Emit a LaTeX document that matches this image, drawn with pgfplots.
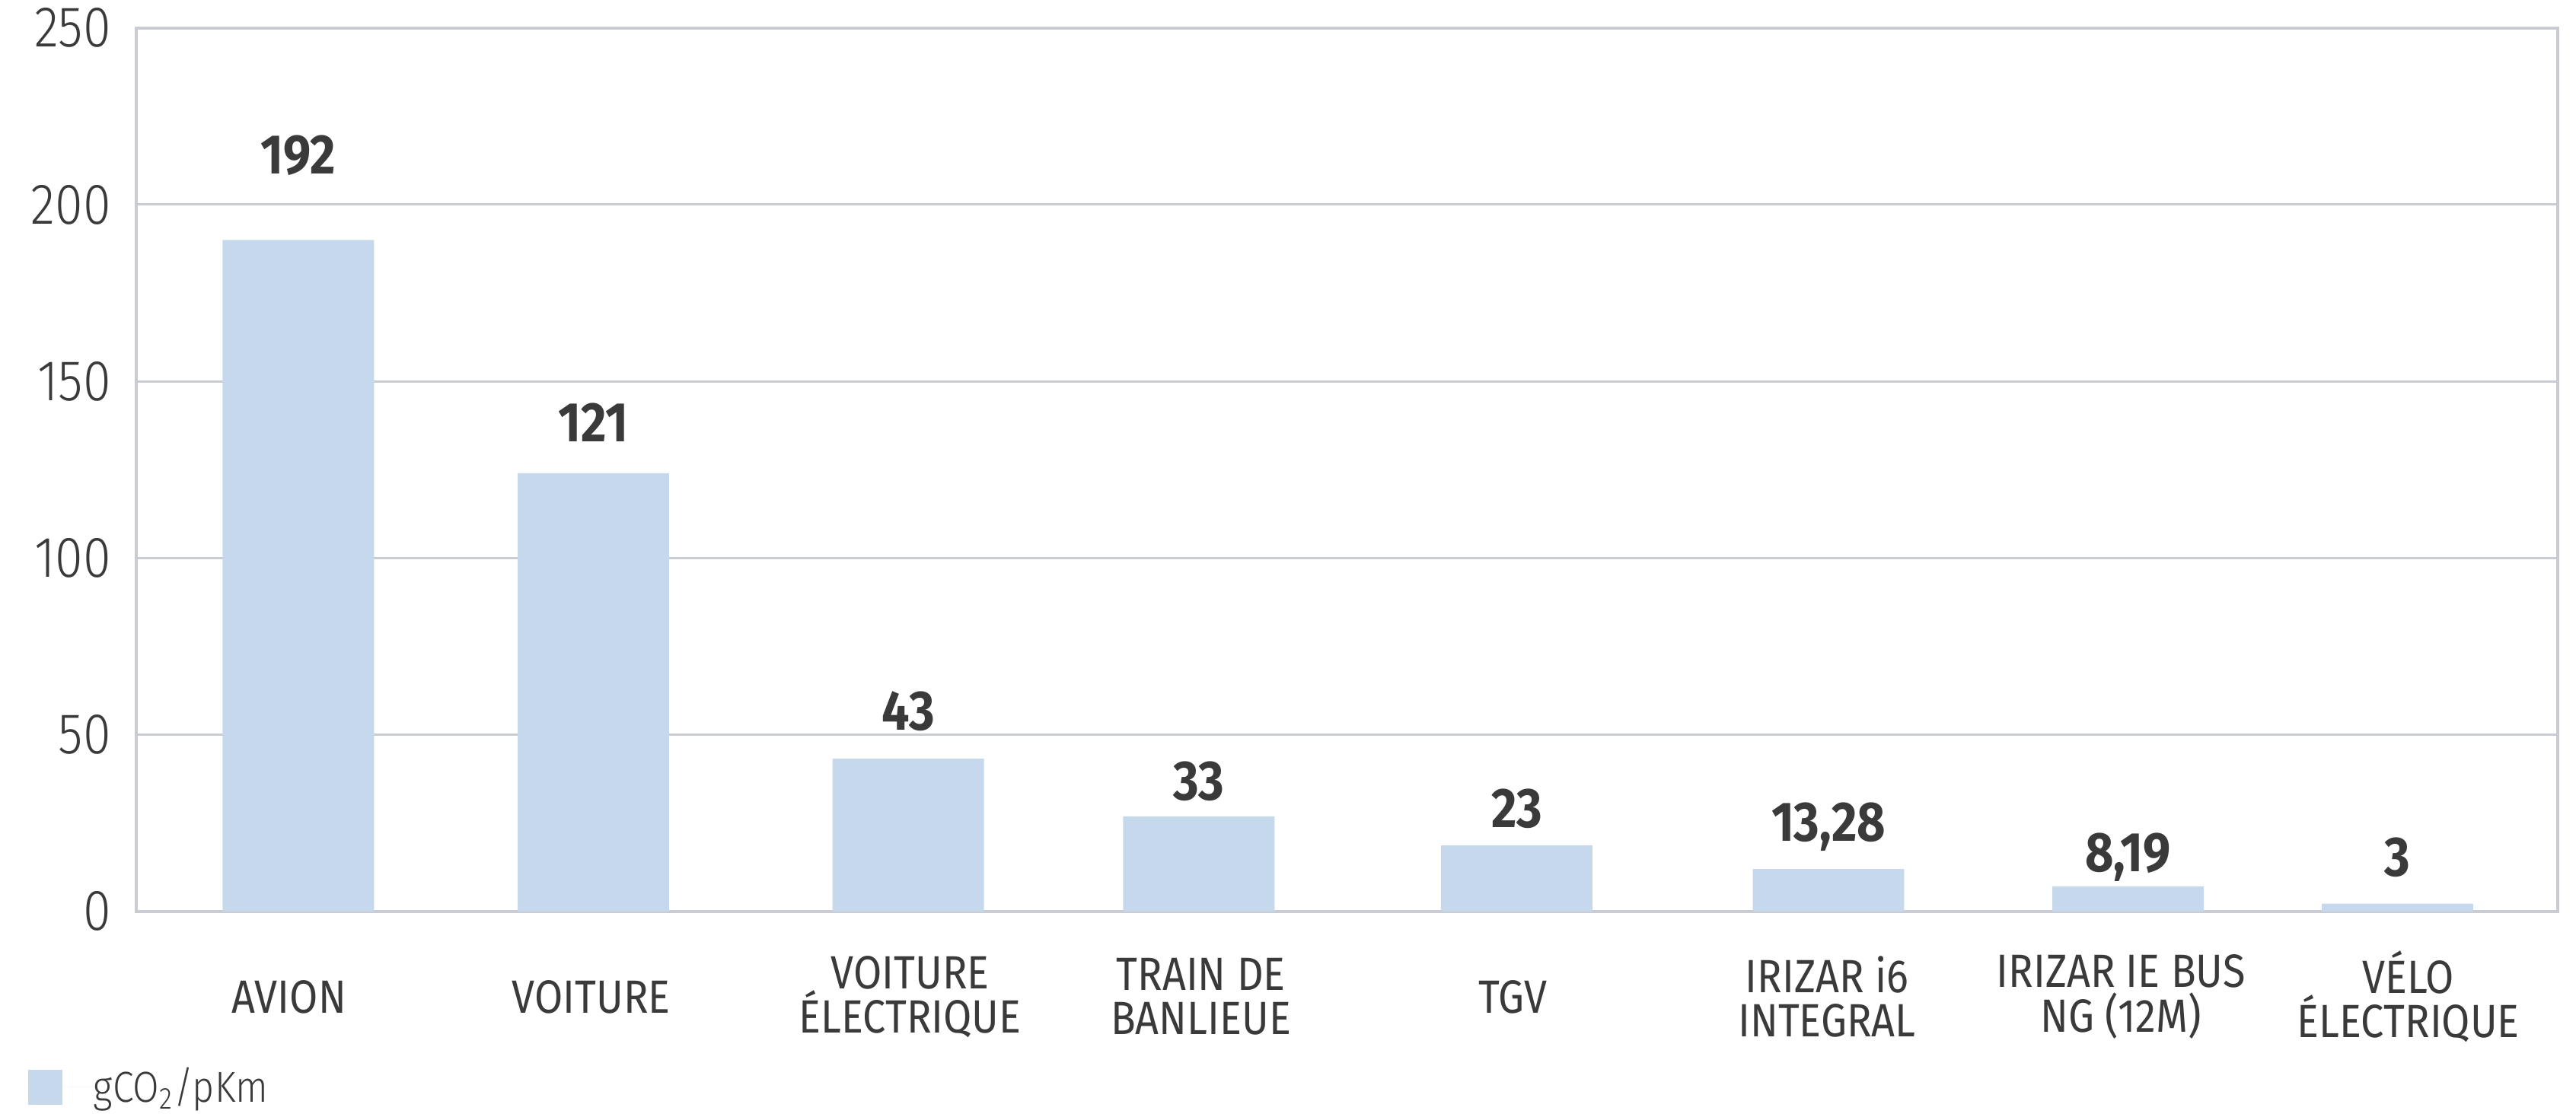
\documentclass[border=0pt]{standalone}
\usepackage{pgfplots}
\pgfplotsset{compat=1.18}
\usepackage{fontspec}
\setmainfont{Fira Sans}[FakeStretch=0.88]
\newfontfamily\lightfont{Fira Sans Light}[FakeStretch=0.88]
\definecolor{barc}{HTML}{C5D8EC}
\definecolor{txt}{HTML}{3A3A3A}
\definecolor{gridc}{HTML}{C9CDD3}
\begin{document}
\begin{tikzpicture}
\useasboundingbox (-41.5pt,-62.5pt) rectangle (742.5pt,277.5pt);
\begin{axis}[
  at={(0,0)}, anchor=south west,
  width=737pt, height=269pt, scale only axis,
  xmin=-0.5, xmax=7.5, ymin=0, ymax=250,
  ytick={0,50,100,150,200,250},
  ymajorgrids, grid style={gridc, line width=0.7pt},
  axis line style={gridc, line width=0.9pt},
  major tick length=0pt,
  xtick={0.005,1.003,2.056,3.017,4.048,5.085,6.056,7.006},
  xticklabels={AVION, VOITURE, {VOITURE\\ÉLECTRIQUE}, {TRAIN DE\\BANLIEUE}, TGV, {IRIZAR i6\\INTEGRAL}, {IRIZAR IE BUS\\NG (12M)}, {VÉLO\\ÉLECTRIQUE}},
  xticklabel style={align=center, anchor=center, yshift=-26pt, font=\fontsize{14.2}{13.5}\selectfont, text=txt},
  yticklabel style={font=\lightfont\fontsize{17.5}{17.5}\selectfont, text=txt, anchor=east, inner sep=0pt, xshift=-7.5pt},
  /pgf/number format/assume math mode=true,
  legend style={at={(axis description cs:-0.0448,-0.199)}, anchor=west, draw=none, fill=none, inner sep=0pt, outer sep=0pt, nodes={inner sep=0pt}, font=\lightfont\fontsize{13.2}{13.2}\selectfont, text=txt, legend cell align=left},
  legend image code/.code={\fill[barc] (0pt,-5.25pt) rectangle (10.5pt,5.25pt); \path (0pt,0pt) -- (20pt,0pt);},
]
\addplot[ybar, bar width=0.5, fill=barc, draw=none] coordinates {
  (0.035,190) (1.010,124) (2.050,43.2) (3.010,26.9) (4.060,18.7) (5.090,12.0) (6.080,7.1) (6.970,2.2)
};
\addlegendentry{gCO\textsubscript{2}/pKm}
\addplot[forget plot, draw=none, mark=none, nodes near coords, point meta=explicit symbolic,
  nodes near coords style={anchor=center, font=\bfseries\fontsize{17}{17}\selectfont, text=txt}]
  table[meta=lab] {
x y lab
0.035 214.0 192
1.010 138.4 121
2.050 56.6 43
3.010 36.8 33
4.060 29.0 23
5.090 23.9 13,28
6.080 15.3 8,19
6.970 15.3 3
};
\end{axis}
\end{tikzpicture}
\end{document}
